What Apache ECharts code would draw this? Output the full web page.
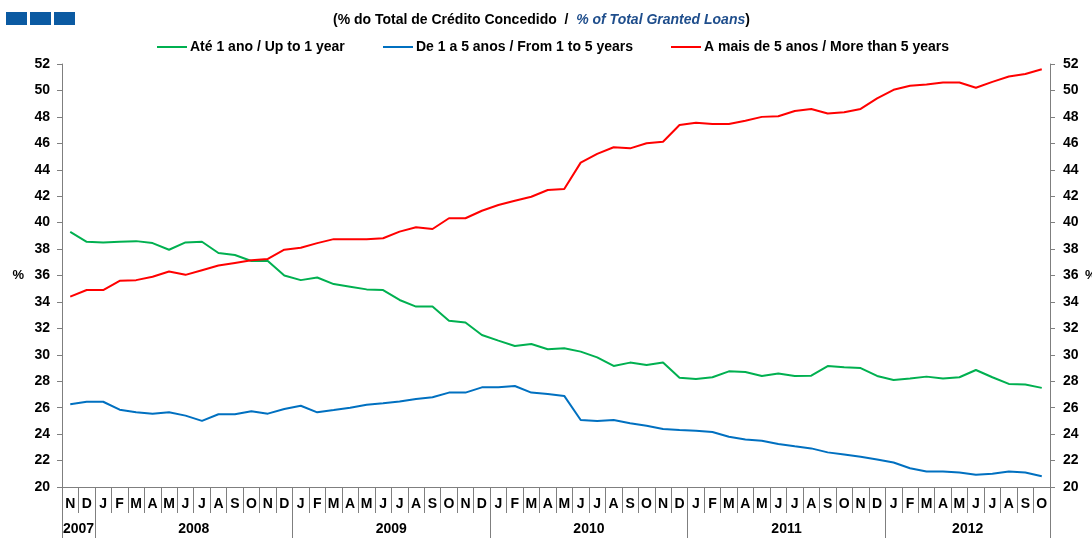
<!DOCTYPE html>
<html>
<head>
<meta charset="utf-8">
<script src="https://cdn.jsdelivr.net/npm/echarts@6/dist/echarts.min.js"></script>
<style>
  html, body { margin: 0; padding: 0; background: #fff; }
  #chart { width: 1092px; height: 538px; }
</style>
</head>
<body>
<div id="chart"></div>
<script>
// meses (Nov 2007 - Out 2012)
const months = [
  'N', 'D',
  'J', 'F', 'M', 'A', 'M', 'J', 'J', 'A', 'S', 'O', 'N', 'D',
  'J', 'F', 'M', 'A', 'M', 'J', 'J', 'A', 'S', 'O', 'N', 'D',
  'J', 'F', 'M', 'A', 'M', 'J', 'J', 'A', 'S', 'O', 'N', 'D',
  'J', 'F', 'M', 'A', 'M', 'J', 'J', 'A', 'S', 'O', 'N', 'D',
  'J', 'F', 'M', 'A', 'M', 'J', 'J', 'A', 'S', 'O'
]
const years = ['2007', '2008', '2009', '2010', '2011', '2012']
const monthsPerYear = [2, 12, 12, 12, 12, 10]

const seriesNames = [
  'Até 1 ano / Up to 1 year',
  'De 1 a 5 anos / From 1 to 5 years',
  'A mais de 5 anos / More than 5 years'
]

const upTo1 = [
  39.3, 38.55,
  38.5, 38.55, 38.6, 38.45, 37.95, 38.5, 38.55, 37.7, 37.55, 37.1, 37.1, 36.0,
  35.65, 35.85, 35.35, 35.15, 34.95, 34.9, 34.15, 33.65, 33.65, 32.58, 32.45, 31.5,
  31.07, 30.67, 30.82, 30.42, 30.5, 30.24, 29.81, 29.16, 29.41, 29.23, 29.41, 28.27,
  28.17, 28.3, 28.75, 28.7, 28.4, 28.58, 28.4, 28.42, 29.15, 29.05, 29.0, 28.4,
  28.1, 28.2, 28.35, 28.2, 28.3, 28.85, 28.3, 27.8, 27.75, 27.5
]
const from1to5 = [
  26.26, 26.45,
  26.45, 25.85, 25.65, 25.55, 25.65, 25.4, 25.0, 25.5, 25.5, 25.73, 25.55, 25.9,
  26.15, 25.65, 25.82, 26.0, 26.22, 26.33, 26.46, 26.66, 26.79, 27.14, 27.14, 27.54,
  27.54, 27.64, 27.14, 27.04, 26.89, 25.07, 25.0, 25.07, 24.82, 24.64, 24.39, 24.31,
  24.26, 24.16, 23.8, 23.6, 23.5, 23.25, 23.08, 22.92, 22.62, 22.45, 22.28, 22.08,
  21.85, 21.42, 21.18, 21.18, 21.1, 20.92, 21.0, 21.18, 21.1, 20.82
]
const over5 = [
  34.4, 34.9,
  34.9, 35.6, 35.65, 35.9, 36.3, 36.05, 36.4, 36.75, 36.95, 37.15, 37.25, 37.95,
  38.1, 38.45, 38.75, 38.75, 38.75, 38.82, 39.32, 39.65, 39.52, 40.33, 40.33, 40.9,
  41.33, 41.66, 41.96, 42.47, 42.55, 44.54, 45.2, 45.7, 45.62, 46.0, 46.12, 47.39,
  47.56, 47.46, 47.46, 47.7, 48.0, 48.05, 48.45, 48.6, 48.25, 48.35, 48.6, 49.4,
  50.05, 50.35, 50.45, 50.6, 50.6, 50.2, 50.65, 51.05, 51.25, 51.6
]

const colors = ['#00b050', '#0070c0', '#ff0000']
const font = "'Liberation Sans', Arial, sans-serif"

// eixo dos anos em meios-meses: posicoes de fronteira e de centro
const yearAxisData = []
const yearTicks = {}
const yearLabels = {}
let pos = 0
yearTicks[0] = true
years.forEach((y, i) => {
  yearLabels[pos + monthsPerYear[i]] = y
  pos += monthsPerYear[i] * 2
  yearTicks[pos] = true
})
for (let i = 0; i <= months.length * 2; i++) yearAxisData.push(yearLabels[i] || '')

const myChart = echarts.init(document.getElementById('chart'))

const legendFor = (name, left) => ({
  data: [name],
  left: left,
  top: 40,
  padding: 0,
  itemWidth: 30,
  itemHeight: 12,
  itemGap: 5,
  icon: 'path://M0,5 L30,5 L30,7 L0,7 Z',
  textStyle: { color: '#000', fontSize: 14, fontWeight: 'bold', fontFamily: font, padding: [0, 0, 0, -2] }
})

const yAxisFor = (position, gap, margin) => ({
  type: 'value',
  position: position,
  min: 20,
  max: 52,
  interval: 2,
  name: '%',
  nameLocation: 'middle',
  nameRotate: 0,
  nameGap: gap,
  nameTextStyle: { color: '#000', fontSize: 13, fontWeight: 'bold', fontFamily: font },
  axisLine: { show: true, lineStyle: { color: '#7f7f7f', width: 1 } },
  axisTick: { show: true, length: 5, lineStyle: { color: '#7f7f7f' } },
  axisLabel: { color: '#000', fontSize: 14, fontWeight: 'bold', fontFamily: font, margin: margin },
  splitLine: { show: false }
})

const lineSeries = (name, data, color) => ({
  name: name,
  type: 'line',
  data: data,
  symbol: 'none',
  smooth: false,
  lineStyle: { color: color, width: 2 },
  itemStyle: { color: color },
  emphasis: { disabled: true }
})

myChart.setOption({
  animation: false,
  title: {
    text: '{a|(% do Total de Crédito Concedido  /  }{b|% of Total Granted Loans}{a|)}',
    left: 333,
    top: 13,
    padding: 0,
    textStyle: {
      rich: {
        a: { color: '#000', fontSize: 14, fontWeight: 'bold', fontFamily: font },
        b: { color: '#1f4e8c', fontSize: 14, fontWeight: 'bold', fontStyle: 'italic', fontFamily: font }
      }
    }
  },
  graphic: [
    { type: 'rect', left: 6, top: 12, shape: { width: 21, height: 13 }, style: { fill: '#0b5aa2' } },
    { type: 'rect', left: 30, top: 12, shape: { width: 21, height: 13 }, style: { fill: '#0b5aa2' } },
    { type: 'rect', left: 54, top: 12, shape: { width: 21, height: 13 }, style: { fill: '#0b5aa2' } }
  ],
  legend: [
    legendFor(seriesNames[0], 157),
    legendFor(seriesNames[1], 383),
    legendFor(seriesNames[2], 671)
  ],
  grid: {
    left: 62,
    right: 42,
    top: 64,
    bottom: 51,
    outerBoundsMode: 'none'
  },
  xAxis: [
    {
      type: 'category',
      data: months,
      boundaryGap: true,
      axisLine: { show: true, lineStyle: { color: '#7f7f7f' } },
      axisTick: { show: true, interval: 0, length: 26, lineStyle: { color: '#7f7f7f' } },
      axisLabel: { interval: 0, color: '#000', fontSize: 14, fontWeight: 'bold', fontFamily: font, margin: 10 },
      splitLine: { show: false }
    },
    {
      type: 'category',
      data: yearAxisData,
      position: 'bottom',
      offset: 26,
      boundaryGap: false,
      axisLine: { show: false },
      axisTick: {
        show: true,
        length: 26,
        interval: (index) => !!yearTicks[index],
        lineStyle: { color: '#7f7f7f' }
      },
      axisLabel: {
        interval: (index) => !!yearLabels[index],
        color: '#000',
        fontSize: 14,
        fontWeight: 'bold',
        fontFamily: font,
        margin: 9
      },
      splitLine: { show: false }
    }
  ],
  yAxis: [yAxisFor('left', 38, 12), yAxisFor('right', 35, 13)],
  series: [
    lineSeries(seriesNames[0], upTo1, colors[0]),
    lineSeries(seriesNames[1], from1to5, colors[1]),
    lineSeries(seriesNames[2], over5, colors[2])
  ]
})
</script>
</body>
</html>
